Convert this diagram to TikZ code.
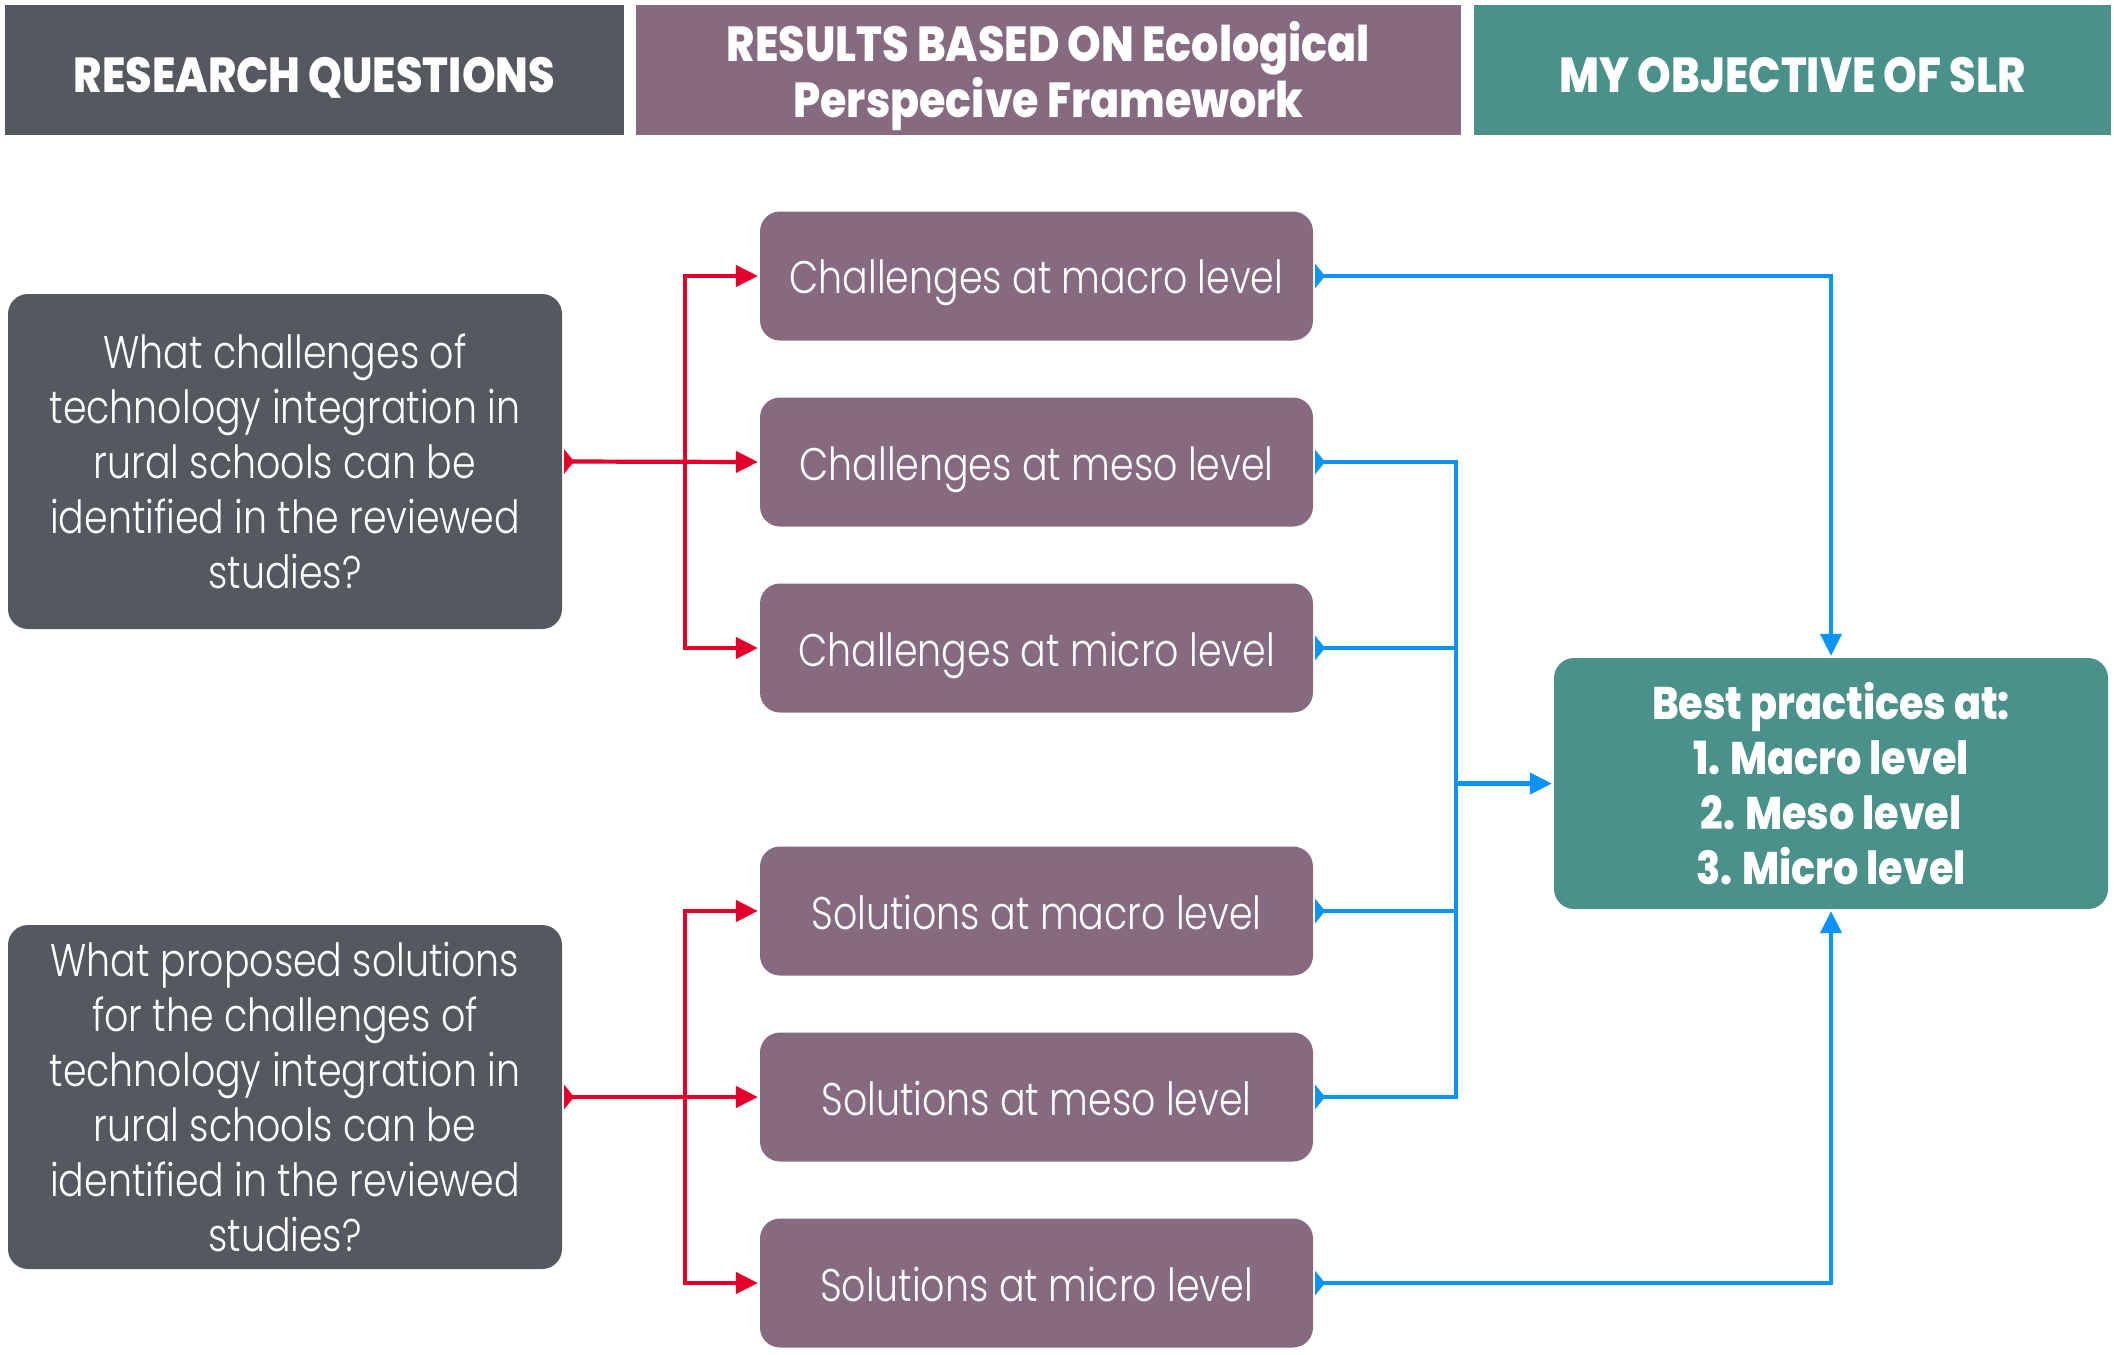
\documentclass[tikz,border=0pt]{standalone}
\usepackage{fontspec}
\newfontfamily\headfont[UprightFont={* ExtraBold},FakeStretch=0.87]{Poppins}
\newfontfamily\bodyfont[UprightFont={* Light},FakeStretch=0.83]{Poppins}
\usetikzlibrary{arrows.meta, calc}
\definecolor{rqgray}{RGB}{84,88,95}
\definecolor{respurple}{RGB}{134,107,128}
\definecolor{objteal}{RGB}{74,146,137}
\definecolor{linkred}{RGB}{228,0,43}
\definecolor{linkblue}{RGB}{10,148,250}

\begin{document}
\begin{tikzpicture}[line width=1.2pt, >={Triangle[length=0.22cm,width=0.21cm]},
    head/.style={minimum height=1.3cm, inner sep=0pt, text=white, align=center,
      font=\headfont\fontsize{14}{15.8}\selectfont},
    question/.style={fill=rqgray, rounded corners=0.2cm, minimum width=5.54cm,
      inner sep=0pt, text=white, align=center,
      font=\bodyfont\fontsize{13}{15.6}\selectfont},
    result/.style={fill=respurple, rounded corners=0.2cm, minimum width=5.53cm,
      minimum height=1.29cm, inner sep=0pt, text=white,
      text height=0.46cm, text depth=0.1cm,
      font=\bodyfont\fontsize{13}{15.6}\selectfont},
    stub/.tip={Triangle[reversed,length=0.1cm,width=0.24cm]},
    redlink/.style={draw=linkred, {stub}->},
    bluelink/.style={draw=linkblue, {stub}-{stub}},
    blueend/.style={draw=linkblue, {stub}-},
    bluearrow/.style={draw=linkblue, {stub}->}
  ]
    \useasboundingbox (0,0) rectangle (21.14,-13.54);

    % column headers
    \node[head, fill=rqgray, minimum width=6.19cm, text height=0.5cm, text depth=0.04cm]
    (rq) at (3.145,-0.70) {RESEARCH QUESTIONS};
    \node[head, fill=respurple, minimum width=8.25cm] (res) at (10.485,-0.70)
    {\rule{0pt}{0.52cm}RESULTS BASED ON Ecological\\Perspecive Framework};
    \node[head, fill=objteal, minimum width=6.37cm, text height=0.5cm, text depth=0.04cm]
    (obj) at (17.925,-0.70) {MY OBJECTIVE OF SLR};

    % questions
    \node[question, minimum height=3.35cm] (q1) at (2.85,-4.615)
    {What challenges of\\technology integration in\\rural schools can be\\identified in the reviewed\\studies?};
    \node[question, minimum height=3.44cm] (q2) at (2.85,-10.97)
    {What proposed solutions\\for the challenges of\\technology integration in\\rural schools can be\\identified in the reviewed\\studies?};

    % results per level
    \foreach \lvl [count=\i] in {macro,meso,micro}{
      \node[result] (chal\i) at (10.365,{-2.76-1.86*(\i-1)}) {Challenges at \lvl\ level};
      \node[result] (sol\i) at (10.365,{-9.11-1.86*(\i-1)}) {Solutions at \lvl\ level};
    }

    % objective
    \node[head, fill=objteal, rounded corners=0.2cm, minimum width=5.54cm,
    minimum height=2.51cm, font=\headfont\fontsize{13}{15.6}\selectfont]
    (best) at (18.31,-7.835)
    {Best practices at:\\1. Macro level\\2. Meso level\\3. Micro level};

    % questions to results
    \foreach \q/\r in {1/chal,2/sol}{
      \coordinate (split\q) at ($(q\q.east)+(1.21,0)$);
      \draw[redlink] (q\q.east) -- (\r2.west);
      \draw[draw=linkred, <->] (\r1.west) -| (split\q) |- (\r3.west);
    }

    % results to objective
    \coordinate (merge) at ($(best.west)+(-0.96,0)$);
    \draw[bluelink] (chal2.east) -- (merge |- chal2.east) |- (sol2.east);
    \foreach \n in {chal3,sol1}{
      \draw[blueend] (\n.east) -- (merge |- \n.east);
    }
    \draw[draw=linkblue, ->] (merge) -- (best.west);
    \draw[bluearrow] (chal1.east) -| (best.north);
    \draw[bluearrow] (sol3.east) -| (best.south);
\end{tikzpicture}
\end{document}
